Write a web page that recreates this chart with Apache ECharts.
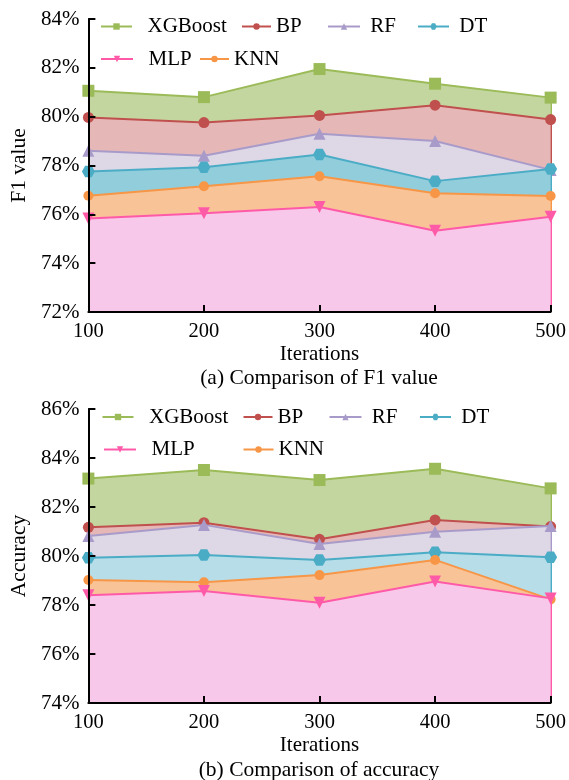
<!DOCTYPE html>
<html>
<head>
<meta charset="utf-8">
<script src="https://cdn.jsdelivr.net/npm/echarts@6/dist/echarts.min.js"></script>
<style>html,body{margin:0;padding:0;background:#fff;}#c{width:569px;height:780px;}</style>
</head>
<body>
<div id="c"></div>
<script>
// ---- data ----
const iterations = ['100', '200', '300', '400', '500'];
const seriesNames = ['XGBoost', 'BP', 'RF', 'DT', 'KNN', 'MLP'];

// (a) F1 value (%)
const f1XGBoost = [81.06, 80.80, 81.95, 81.35, 80.78];
const f1BP      = [79.97, 79.76, 80.05, 80.47, 79.88];
const f1RF      = [78.60, 78.40, 79.30, 79.00, 77.82];
const f1DT      = [77.75, 77.93, 78.45, 77.36, 77.86];
const f1KNN     = [76.76, 77.15, 77.56, 76.86, 76.75];
const f1MLP     = [75.83, 76.04, 76.30, 75.33, 75.90];

// (b) Accuracy (%)
const accXGBoost = [83.16, 83.51, 83.10, 83.56, 82.76];
const accBP      = [81.17, 81.36, 80.68, 81.47, 81.20];
const accRF      = [80.82, 81.27, 80.49, 80.99, 81.22];
const accDT      = [79.93, 80.04, 79.84, 80.15, 79.95];
const accKNN     = [79.02, 78.93, 79.22, 79.84, 78.23];
const accMLP     = [78.40, 78.57, 78.09, 78.96, 78.27];

const f1Range  = [72, 84];
const accRange = [74, 86];

// ---- styles ----
const FONT = "'Liberation Serif','Times New Roman',serif";
const hex = 'path://M0,8.66 L5,0 L15,0 L20,8.66 L15,17.32 L5,17.32 Z';
const styles = {
  XGBoost: {line: '#9bbb59', fill: ['#c4d6a0', '#c4d6a0'], symbol: 'rect', size: 12, rot: 0},
  BP:      {line: '#c0504d', fill: ['#e5b8b7', '#e5b8b7'], symbol: 'circle', size: 11, rot: 0},
  RF:      {line: '#a99bc9', fill: ['#ddd7e6', '#ddd7e6'], symbol: 'triangle', size: 12, rot: 0},
  DT:      {line: '#4bacc6', fill: ['#92cddc', '#b6dde8'], symbol: hex, size: [13, 11.5], rot: 0},
  KNN:     {line: '#f79646', fill: ['#f9c398', '#f9c398'], symbol: 'circle', size: 10, rot: 0},
  MLP:     {line: '#ff5aa8', fill: ['#f8c8ea', '#f8c8ea'], symbol: 'triangle', size: 12, rot: 180}
};

const f1Data  = {XGBoost: f1XGBoost, BP: f1BP, RF: f1RF, DT: f1DT, KNN: f1KNN, MLP: f1MLP};
const accData = {XGBoost: accXGBoost, BP: accBP, RF: accRF, DT: accDT, KNN: accKNN, MLP: accMLP};

function makeSeries(name, data, gi, yMin, zi) {
  const s = styles[name];
  const last = iterations.length - 1;
  return {
    name: name, type: 'line', xAxisIndex: gi, yAxisIndex: gi,
    data: data, z: 2 + zi,
    symbol: s.symbol, symbolSize: s.size, symbolRotate: s.rot,
    showSymbol: true,
    lineStyle: {color: s.line, width: 2},
    itemStyle: {color: s.line, opacity: 1},
    areaStyle: {color: s.fill[gi], opacity: 1, origin: 'start'},
    emphasis: {disabled: true},
    silent: true,
    markLine: {
      silent: true, symbol: 'none', z: 2 + zi, animation: false,
      label: {show: false},
      lineStyle: {color: s.line, width: 2, type: 'solid'},
      emphasis: {disabled: true},
      data: [[{coord: [iterations[last], data[last]]}, {coord: [iterations[last], yMin]}]]
    }
  };
}

const series = [];
seriesNames.forEach((n, i) => series.push(makeSeries(n, f1Data[n], 0, f1Range[0], i)));
seriesNames.forEach((n, i) => series.push(makeSeries(n, accData[n], 1, accRange[0], i)));

function leg(name, left, top, w, sp) {
  return {
    data: [name], left: left, top: top, itemWidth: w, itemHeight: 8, itemGap: 0, padding: 0,
    selectedMode: false, formatter: ' '.repeat(sp) + '{name}',
    textStyle: {fontFamily: FONT, fontSize: 21, color: '#000', lineHeight: 22}
  };
}

const legends = [
  leg('XGBoost', 100, 15.5, 31, 2), leg('BP', 241, 15.5, 29, 0), leg('RF', 327, 15.5, 32, 1), leg('DT', 417, 15.5, 31, 1),
  leg('MLP', 100, 48, 32, 2), leg('KNN', 199, 48, 29, 0),
  leg('XGBoost', 101.5, 406, 31, 2), leg('BP', 242.5, 406, 29, 0), leg('RF', 328.5, 406, 32, 1), leg('DT', 419, 406, 31, 1),
  leg('MLP', 103, 438.5, 32, 2), leg('KNN', 242.5, 438.5, 30, 0)
];

function xAx(gi) {
  return {
    type: 'category', gridIndex: gi, data: iterations, boundaryGap: false, z: 20,
    name: 'Iterations', nameLocation: 'middle', nameGap: 32,
    nameTextStyle: {fontFamily: FONT, fontSize: 21, color: '#000'},
    axisLine: {show: true, onZero: false, lineStyle: {color: '#000', width: 2}},
    axisTick: {show: true, inside: true, length: 7, alignWithLabel: true, lineStyle: {color: '#000', width: 2}},
    axisLabel: {fontFamily: FONT, fontSize: 20.5, color: '#000', margin: 9, showMinLabel: true, showMaxLabel: true},
    splitLine: {show: false}
  };
}
function yAx(gi, range, title) {
  return {
    type: 'value', gridIndex: gi, min: range[0], max: range[1], interval: 2, z: 20,
    name: title, nameLocation: 'middle', nameGap: 57,
    nameTextStyle: {fontFamily: FONT, fontSize: 21.5, color: '#000'},
    axisLine: {show: true, lineStyle: {color: '#000', width: 2}},
    axisTick: {show: true, inside: true, length: 7, lineStyle: {color: '#000', width: 2}},
    axisLabel: {fontFamily: FONT, fontSize: 21, color: '#000', margin: 9, formatter: '{value}%'},
    splitLine: {show: false}
  };
}

const option = {
  animation: false,
  backgroundColor: '#fff',
  grid: [
    {left: 87, top: 19, width: 465, height: 293},
    {left: 87, top: 409, width: 465, height: 294}
  ],
  xAxis: [xAx(0), xAx(1)],
  yAxis: [yAx(0, f1Range, 'F1 value'), yAx(1, accRange, 'Accuracy')],
  legend: legends,
  graphic: [
    {type: 'text', x: 319, y: 378, style: {text: '(a) Comparison of F1 value', font: '21.5px ' + FONT, fill: '#000', textAlign: 'center', textVerticalAlign: 'middle'}},
    {type: 'text', x: 319, y: 770, style: {text: '(b) Comparison of accuracy', font: '21.5px ' + FONT, fill: '#000', textAlign: 'center', textVerticalAlign: 'middle'}}
  ],
  series: series
};

const chart = echarts.init(document.getElementById('c'), null, {renderer: 'canvas'});
chart.setOption(option);
</script>
</body>
</html>
